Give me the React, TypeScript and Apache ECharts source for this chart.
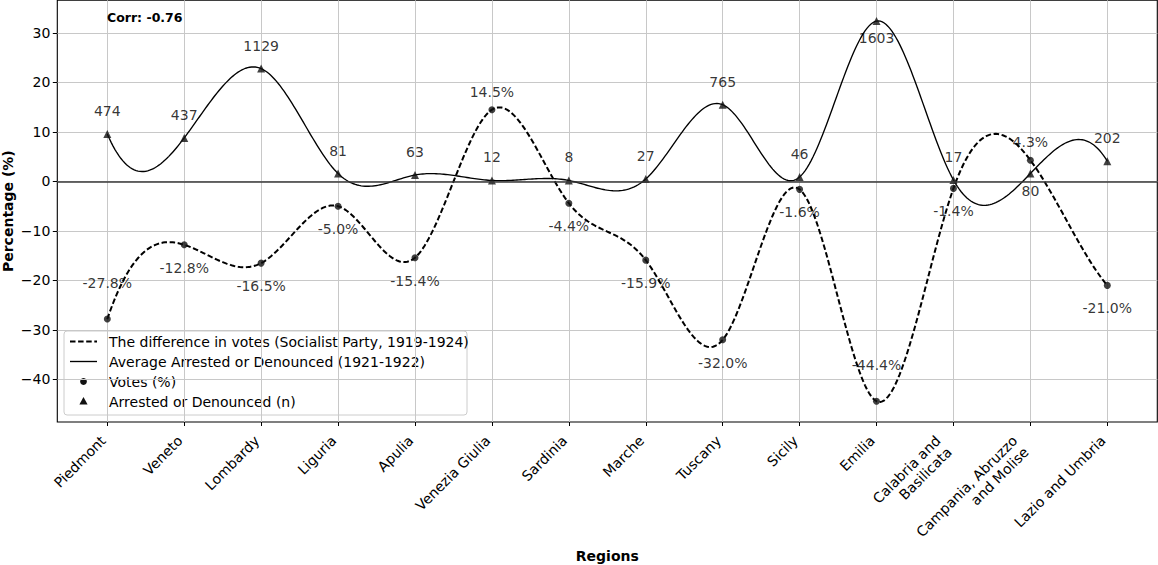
import React, { useEffect, useRef } from "react";
import * as echarts from "echarts";

const regions = [
  "Piedmont",
  "Veneto",
  "Lombardy",
  "Liguria",
  "Apulia",
  "Venezia Giulia",
  "Sardinia",
  "Marche",
  "Tuscany",
  "Sicily",
  "Emilia",
  "Calabria and\nBasilicata",
  "Campania, Abruzzo\nand Molise",
  "Lazio and Umbria",
];
const votesDiff = [-27.8, -12.8, -16.5, -5.0, -15.4, 14.5, -4.4, -15.9, -32.0, -1.6, -44.4, -1.4, 4.3, -21.0];
const arrestedCount = [474, 437, 1129, 81, 63, 12, 8, 27, 765, 46, 1603, 17, 80, 202];
const arrestedPct = [9.6, 8.8, 22.8, 1.6, 1.3, 0.2, 0.2, 0.5, 15.5, 0.9, 32.4, 0.3, 1.6, 4.1];
const yTicks = [-40, -30, -20, -10, 0, 10, 20, 30];
const corrText = "Corr: -0.76";
const legendLabels = [
  "The difference in votes (Socialist Party, 1919-1924)",
  "Average Arrested or Denounced (1921-1922)",
  "Votes (%)",
  "Arrested or Denounced (n)",
];

// label placement (layout only)
const voteLabelsRaised = ["Piedmont", "Emilia"];
const arrestLabelsLowered = ["Emilia", "Campania, Abruzzo\nand Molise"];

const FONT = "DejaVu Sans";
const INK = "#000";

function splineM(y: number[]): number[] {
  const n = y.length;
  const A: number[][] = [];
  const b: number[] = [];
  for (let i = 0; i < n; i++) {
    A.push(new Array(n).fill(0));
    b.push(0);
  }
  A[0][0] = 1; A[0][1] = -2; A[0][2] = 1;
  for (let i = 1; i < n - 1; i++) {
    A[i][i - 1] = 1; A[i][i] = 4; A[i][i + 1] = 1;
    b[i] = 6 * (y[i - 1] - 2 * y[i] + y[i + 1]);
  }
  A[n - 1][n - 3] = 1; A[n - 1][n - 2] = -2; A[n - 1][n - 1] = 1;
  for (let c = 0; c < n; c++) {
    let p = c;
    for (let r = c + 1; r < n; r++) if (Math.abs(A[r][c]) > Math.abs(A[p][c])) p = r;
    [A[c], A[p]] = [A[p], A[c]];
    [b[c], b[p]] = [b[p], b[c]];
    for (let r = c + 1; r < n; r++) {
      const f = A[r][c] / A[c][c];
      if (f === 0) continue;
      for (let k = c; k < n; k++) A[r][k] -= f * A[c][k];
      b[r] -= f * b[c];
    }
  }
  const M = new Array(n).fill(0);
  for (let r = n - 1; r >= 0; r--) {
    let s = b[r];
    for (let k = r + 1; k < n; k++) s -= A[r][k] * M[k];
    M[r] = s / A[r][r];
  }
  return M;
}

function curveRenderer(ys: number[], lineWidth: number, dash: number[] | null) {
  const M = splineM(ys);
  return (_params: any, api: any) => {
    const pts: number[][] = [];
    const K = 40;
    for (let i = 0; i < ys.length - 1; i++) {
      for (let k = 0; k <= K; k++) {
        if (i > 0 && k === 0) continue;
        const t = k / K;
        const u = 1 - t;
        const v =
          u * ys[i] +
          t * ys[i + 1] +
          ((u * u * u - u) * M[i]) / 6 +
          ((t * t * t - t) * M[i + 1]) / 6;
        pts.push(api.coord([i + t, v]));
      }
    }
    return {
      type: "polyline",
      shape: { points: pts },
      style: {
        stroke: INK,
        lineWidth,
        lineDash: dash || undefined,
        fill: "none",
      },
      silent: true,
    };
  };
}

export default function App() {
  const ref = useRef<HTMLDivElement>(null);

  useEffect(() => {
    if (!ref.current) return;
    const chart = echarts.init(ref.current, undefined, { renderer: "svg" });
    const idx = regions.map((_, i) => i);

    const voteData = votesDiff.map((v, i) => {
      const raised = voteLabelsRaised.includes(regions[i]);
      const dy = raised ? -36 : v >= 0 ? -18 : 23;
      return {
        value: [i, v],
        label: { offset: [0, dy] },
      };
    });
    const arrestData = arrestedPct.map((v, i) => {
      const lowered = arrestLabelsLowered.includes(regions[i]);
      return {
        value: [i, v, arrestedCount[i]],
        label: { offset: [0, lowered ? 17 : -23] },
      };
    });

    const labelText = { fontFamily: FONT, fontSize: 14, color: INK };

    const option: any = {
      animation: false,
      grid: {
        left: 57.3,
        right: 0.7,
        top: 0.3,
        bottom: 143,
        show: true,
        borderColor: INK,
        borderWidth: 1.1,
        backgroundColor: "#fff",
        containLabel: false,
        outerBoundsMode: "none",
      },
      xAxis: {
        type: "value",
        min: -0.65,
        max: 13.65,
        axisLine: { show: false, onZero: false },
        axisTick: { show: true, length: 4, customValues: idx, lineStyle: { color: INK, width: 1 } },
        axisLabel: {
          customValues: idx,
          formatter: (v: number) => {
            const name = regions[Math.round(v)] || "";
            if (name.includes("\n")) {
              return name
                .split("\n")
                .map((s) => `{b|${s}}`)
                .join("\n");
            }
            return `{a|${name}}`;
          },
          rotate: 45,
          margin: 12,
          padding: [0, 6, 0, 0],
          ...labelText,
          rich: {
            a: { ...labelText, lineHeight: 16 },
            b: { ...labelText, lineHeight: 16, padding: [0, 8, 0, 0] },
          },
        },
        splitLine: { show: true, lineStyle: { color: "#c8c8c8", width: 1 } },
        name: "Regions",
        nameLocation: "middle",
        nameGap: 127,
        nameMoveOverlap: false,
        nameTextStyle: { fontFamily: FONT, fontSize: 14, fontWeight: "bold", color: INK },
      },
      yAxis: {
        type: "value",
        min: -48.6,
        max: 36.6,
        axisLine: { show: false, onZero: false },
        axisTick: { show: true, length: 4.5, customValues: yTicks, lineStyle: { color: INK, width: 1 } },
        axisLabel: {
          customValues: yTicks,
          formatter: (v: number) => String(v).replace("-", "\u2212"),
          margin: 7,
          ...labelText,
        },
        splitLine: { show: true, lineStyle: { color: "#c8c8c8", width: 1 } },
        name: "Percentage (%)",
        nameLocation: "middle",
        nameGap: 42,
        nameMoveOverlap: false,
        nameTextStyle: { fontFamily: FONT, fontSize: 14, fontWeight: "bold", color: INK },
      },
      series: [
        {
          type: "custom",
          name: legendLabels[0],
          data: [[0, votesDiff[0]]],
          renderItem: curveRenderer(votesDiff, 2, [5.5, 2.6]),
          z: 3,
          silent: true,
        },
        {
          type: "custom",
          name: legendLabels[1],
          data: [[0, arrestedPct[0]]],
          renderItem: curveRenderer(arrestedPct, 1.35, null),
          z: 3,
          silent: true,
        },
        {
          type: "scatter",
          name: legendLabels[2],
          symbol: "circle",
          symbolSize: 7,
          itemStyle: { color: "#111" },
          data: voteData,
          z: 4,
          label: {
            show: true,
            position: "inside",
            formatter: (p: any) => `${p.value[1].toFixed(1)}%`,
            ...labelText,
            textBorderWidth: 0,
          },
          markLine: {
            silent: true,
            symbol: "none",
            label: { show: false },
            lineStyle: { color: "#3a3a3a", width: 1.6, type: "solid" },
            data: [{ yAxis: 0 }],
          },
        },
        {
          type: "scatter",
          name: legendLabels[3],
          symbol: "triangle",
          symbolSize: 8,
          itemStyle: { color: "#111" },
          data: arrestData,
          z: 4,
          label: {
            show: true,
            position: "inside",
            formatter: (p: any) => `${p.value[2]}`,
            ...labelText,
            textBorderWidth: 0,
          },
        },
      ],
      graphic: [
        {
          type: "text",
          x: 107,
          y: 17,
          style: {
            text: corrText,
            fontFamily: FONT,
            fontSize: 12.5,
            fontWeight: "bold",
            fill: INK,
            verticalAlign: "middle",
          },
          z: 10,
        },
        {
          type: "group",
          z: 10,
          children: [
            {
              type: "rect",
              shape: { x: 64, y: 331, width: 403, height: 84, r: 3 },
              style: { fill: "rgba(255,255,255,0.85)", stroke: "#cccccc", lineWidth: 1 },
            },
            {
              type: "line",
              shape: { x1: 70, y1: 341.5, x2: 97, y2: 341.5 },
              style: { stroke: INK, lineWidth: 2, lineDash: [5.5, 2.6] },
            },
            {
              type: "line",
              shape: { x1: 70, y1: 361.5, x2: 97, y2: 361.5 },
              style: { stroke: INK, lineWidth: 1.35 },
            },
            {
              type: "circle",
              shape: { cx: 83.5, cy: 381.5, r: 3.4 },
              style: { fill: "#111" },
            },
            {
              type: "polygon",
              shape: { points: [[83.5, 397], [87.6, 404.6], [79.4, 404.6]] },
              style: { fill: "#111" },
            },
            ...legendLabels.map((t, i) => ({
              type: "text",
              x: 109,
              y: 341.5 + i * 20,
              style: {
                text: t,
                fontFamily: FONT,
                fontSize: 14,
                fill: INK,
                verticalAlign: "middle",
              },
            })),
          ],
        },
      ],
    };

    chart.setOption(option);
    return () => chart.dispose();
  }, []);

  return (
    <div
      ref={ref}
      style={{ position: "fixed", left: 0, top: 0, width: 1158, height: 565, background: "#fff" }}
    />
  );
}
